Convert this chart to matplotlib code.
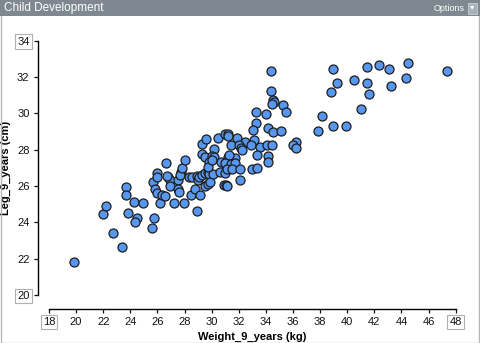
import matplotlib
matplotlib.use("Agg")
import matplotlib.pyplot as plt
from matplotlib.patches import Rectangle

plt.rcParams['font.family'] = ['Liberation Sans', 'DejaVu Sans']

# Child growth measurements at age 9
weight_9 = [
    19.85, 22.0, 22.18, 22.74, 23.38, 23.68, 23.66, 23.85, 24.27, 24.51,
    24.34, 24.95, 25.6, 25.74, 25.65, 25.82, 25.94, 26.2, 26.3, 26.55,
    27.24, 27.96, 25.99, 25.99, 26.6, 26.8, 26.92, 26.92, 26.72, 27.53,
    27.73, 27.66, 27.79, 28.05, 27.53, 27.59, 28.35, 28.52, 28.89, 28.97,
    29.08, 28.47, 28.77, 29.14, 28.94, 29.3, 29.5, 29.75, 29.8, 29.5,
    29.75, 29.87, 30.12, 30.61, 30.96, 30.9, 31.03, 29.3, 29.58, 30.44,
    30.98, 31.18, 30.14, 29.3, 29.5, 30.0, 30.19, 29.82, 29.75, 30.02,
    30.68, 31.22, 31.88, 32.45, 33.14, 31.4, 32.01, 32.13, 32.2, 32.88,
    33.56, 34.05, 34.42, 33.36, 34.13, 34.13, 31.22, 31.72, 31.25, 30.98,
    31.42, 31.72, 31.1, 31.47, 32.08, 32.99, 33.36, 32.08, 31.1, 34.37,
    34.37, 34.5, 34.6, 34.45, 35.23, 35.48, 33.27, 34.03, 33.27, 33.02,
    34.13, 34.54, 35.09, 36.22, 35.97, 36.22, 37.86, 38.13, 38.97, 39.9,
    38.77, 38.97, 39.22, 40.47, 41.04, 41.43, 41.48, 41.58, 42.36, 43.1,
    43.2, 44.45, 44.35, 47.37,
]
leg_9 = [
    21.8, 24.45, 24.92, 23.4, 22.63, 25.93, 25.5, 24.53, 25.12, 24.26,
    24.0, 25.05, 23.7, 24.23, 26.24, 25.84, 25.6, 25.05, 25.51, 25.45,
    25.05, 25.05, 26.7, 26.52, 27.25, 26.52, 26.33, 26.02, 26.55, 26.33,
    26.76, 26.61, 27.01, 27.43, 25.84, 25.69, 26.48, 26.52, 26.57, 26.33,
    26.52, 25.51, 25.82, 25.51, 24.63, 26.61, 26.7, 26.79, 26.66, 26.02,
    26.1, 26.22, 26.66, 26.79, 26.74, 26.06, 26.06, 28.31, 28.57, 28.63,
    28.85, 28.87, 28.04, 27.75, 27.62, 27.65, 27.62, 27.34, 27.07, 27.43,
    27.34, 28.77, 28.66, 28.44, 28.53, 28.26, 28.26, 28.11, 27.98, 28.26,
    28.17, 28.26, 28.26, 27.71, 27.65, 27.31, 27.62, 27.56, 27.68, 27.25,
    27.2, 27.25, 26.94, 26.94, 26.94, 26.94, 27.01, 26.33, 26.02, 32.35,
    31.23, 30.74, 30.6, 30.5, 30.46, 30.09, 30.09, 29.95, 29.49, 29.09,
    29.18, 28.96, 29.05, 28.44, 28.26, 28.08, 29.03, 29.84, 29.3, 29.3,
    31.16, 32.43, 31.65, 31.82, 30.22, 32.57, 31.65, 31.05, 32.66, 32.43,
    31.52, 32.76, 31.95, 32.35,
]

x_ticks = list(range(18, 49, 2))
y_ticks = list(range(20, 35, 2))

W, H = 480, 343
fig = plt.figure(figsize=(W / 100, H / 100), dpi=100)
fig.patch.set_facecolor('white')

# panel frame and header bar
fig.add_artist(Rectangle((0.5 / W, 0.5 / H), (W - 1.5) / W, (H - 1.5) / H,
                         transform=fig.transFigure, fill=False,
                         edgecolor='#b4b8bc', linewidth=1.0))
fig.add_artist(Rectangle((0, 1 - 16 / H), 1, 16 / H, transform=fig.transFigure,
                         facecolor='#7f8890', edgecolor='none'))
fig.text(4 / W, 1 - 8 / H, 'Child Development', color='white', fontsize=8.5,
         va='center', ha='left')
fig.text(465 / W, 1 - 8.5 / H, 'Options', color='white', fontsize=6.5,
         va='center', ha='right')
fig.add_artist(Rectangle((468 / W, 1 - 14 / H), 9 / W, 11 / H,
                         transform=fig.transFigure, facecolor='#a9b0b6',
                         edgecolor='#c9ced2', linewidth=0.6))
fig.text(472.5 / W, 1 - 8 / H, '\u25be', color='white', fontsize=6,
         va='center', ha='center')

ax = fig.add_axes([49 / W, 1 - 295 / H, (455.7 - 49) / W, (295 - 40.7) / H])
ax.scatter(weight_9, leg_9, s=42, facecolor='#5797ef', edgecolor='#1c1c1c',
           linewidth=0.9, zorder=3)

ax.set_xlim(18, 48)
ax.set_ylim(20, 34)
ax.set_xticks(x_ticks, [str(t) for t in x_ticks])
ax.set_yticks(y_ticks, [str(t) for t in y_ticks])

for side in ['top', 'right']:
    ax.spines[side].set_visible(False)
ax.spines['left'].set_position(('outward', 8))
ax.spines['bottom'].set_position(('outward', 10))
ax.spines['left'].set_linewidth(1.0)
ax.spines['bottom'].set_linewidth(1.0)
ax.tick_params(axis='both', direction='out', length=3, width=0.9,
               labelsize=8, pad=3, colors='#111111')

# boxed labels at the ends of each axis
box = dict(boxstyle='square,pad=0.2', facecolor='white',
           edgecolor='#b0b0b0', linewidth=0.8)
xl = ax.get_xticklabels()
yl = ax.get_yticklabels()
for t in (xl[0], xl[-1], yl[0], yl[-1]):
    t.set_bbox(box)

ax.set_xlabel('Weight_9_years (kg)', fontsize=8, fontweight='bold')
ax.set_ylabel('Leg_9_years (cm)', fontsize=8, fontweight='bold')
ax.xaxis.set_label_coords(0.5, -0.145)
ax.yaxis.set_label_coords(-0.093, 0.5)

fig.savefig('out.png', dpi=100)
